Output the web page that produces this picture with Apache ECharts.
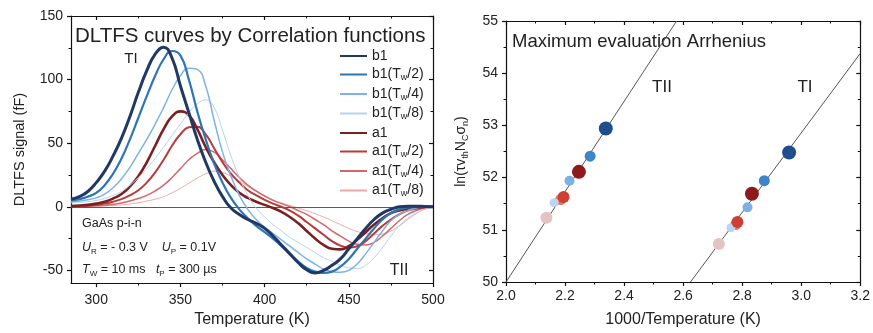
<!DOCTYPE html>
<html><head><meta charset="utf-8">
<script src="https://cdn.jsdelivr.net/npm/echarts@6/dist/echarts.min.js"></script>
<style>html,body{margin:0;padding:0;background:#fff}#c{width:873px;height:333px}</style>
</head><body><div id="c"></div>
<script>
// ---------- Left panel: DLTFS curves ----------
const temps = [285,290,295,300,305,310,315,320,325,330,335,340,345,350,355,360,365,370,375,380,385,390,395,400,405,410,415,420,425,430,435,440,445,450,455,460,465,470,475,480,485,490,495,500];
const b1   = [6,8,12,19,28,40,54,71,90,107,120,125.5,117,95,74,53,35,20,8,-1,-6,-10,-13,-17,-23,-30,-37,-44,-49.5,-52,-50,-46,-41,-33,-25,-17,-10,-5,-2,0,0.5,0.5,0.3,0];
const b1_2 = [5,6,8,11,17,26,38,53,70,87,103,116,122.5,119,100,75,53,34,19,7,-2,-9,-15,-20,-25,-31,-37,-43,-48,-51,-52,-51,-47,-41,-33,-25,-17,-10,-5,-2,-0.5,0,0,0];
const b1_4 = [4,4.5,5.5,7,10,15,22,31,42,53,65,78,92,103,109,108,95,68,43,24,9,-2,-10,-16,-21,-26,-31,-36,-41,-45,-49,-51,-51.5,-50,-45,-37,-28,-19,-11,-6,-3,-1,0,0];
const b1_8 = [3,3.5,4,5,6.5,9,12,17,23,30,38,47,56,65,74,81,84,78,60,40,23,9,-1,-8,-14,-19,-24,-28,-32,-36,-40,-43,-46,-48,-48.5,-46,-40,-32,-23,-15,-9,-5,-2,0];
const a1   = [0.5,1,1.5,2.5,4,6.5,10,16,24,35,48,61,71,75,72,61,47,35,25,17,11,7,4,1.5,-1,-4,-8,-13,-19,-25,-30,-33,-33.5,-31,-26,-20,-14,-9,-5,-3,-1.5,-0.5,0,0];
const a1_2 = [0.3,0.5,1,1.5,2.5,4,6,9,13,19,27,37,48,57,62.5,63,57,46,35,26,19,13,9,5.5,2.5,0,-3,-7,-12,-17,-22,-27,-30.5,-32,-31,-27,-21,-15,-10,-6,-3,-1.5,-0.5,0];
const a1_4 = [0.2,0.3,0.5,0.8,1.2,2,3,4.5,6.5,9,12.5,17,23,30,37,42,45,43,37,30,23,17,12.5,8.5,5,2.5,0,-3,-6,-10,-14,-19,-23,-27,-29.5,-30,-28,-23,-17,-11,-6,-3,-1,0];
const a1_8 = [0.1,0.2,0.3,0.5,0.7,1,1.5,2.2,3.2,4.5,6,8,11,14.5,18.5,22.5,26,28,27,24,20,16,12,8.5,5.5,3,1,-1,-3,-5.5,-8,-11,-14,-17,-19.5,-21,-22,-21.5,-19,-15,-10,-5.5,-2,0];
const seriesNames = ['b1','b1(Tw/2)','b1(Tw/4)','b1(Tw/8)','a1','a1(Tw/2)','a1(Tw/4)','a1(Tw/8)'];
const curves = [b1,b1_2,b1_4,b1_8,a1,a1_2,a1_4,a1_8];
const xTicksL = [300,350,400,450,500];
const xMinorL = [325,375,425,475];
const yTicksL = [-50,0,50,100,150];
const yMinorL = [-25,25,75,125];

// ---------- Right panel: Arrhenius ----------
const invT_TII = [2.338,2.285,2.215,2.163,2.247,2.195,2.185,2.137];
const lnY_TII  = [52.94,52.41,51.94,51.52,52.11,51.63,51.58,51.23];
const invT_TI  = [2.959,2.875,2.818,2.762,2.833,2.784,2.778,2.721];
const lnY_TI   = [52.48,51.94,51.43,51.04,51.69,51.15,51.10,50.73];
const fitTII_x = [2.0,2.578], fitTII_y = [50,55];
const fitTI_x  = [2.625,3.2], fitTI_y  = [50,54.38];
const xTicksR = [2.0,2.2,2.4,2.6,2.8,3.0,3.2];
const xMinorR = [2.1,2.3,2.5,2.7,2.9,3.1];
const yTicksR = [50,51,52,53,54,55];
const yMinorR = [50.5,51.5,52.5,53.5,54.5];

const lineColors = ['#1f3864','#2e75b6','#7fb2e5','#b4d3f0','#7b2020','#b83b3b','#d06a6a','#eba9a9'];
const lineWidths = [3,2.2,1.5,1,2.6,2,1.5,1];
const dotColors  = ['#1f4e8c','#3d85c6','#7eb0e0','#b9d5f0','#8e1b1b','#cf4034','#e0736a','#e3c3c3'];
const dotSizes   = [14,11,10,9,14,12,11,12];
const dotOrder   = [6,7,3,5,2,4,1,0];

const FONT = '"Liberation Sans", Arial, sans-serif';
const TXT = '#222';

function axPair(grid, min, max, pos, majors, minors, labelOpts, extra) {
  const inside = (pos === 'top' || pos === 'right');
  const base = {type:'value', gridIndex:grid, min:min, max:max, position:pos, splitLine:{show:false}};
  const main = Object.assign({}, base, {
    axisLine:{show:true, onZero:false, lineStyle:{color:'#111', width:1.2}},
    axisTick:{show:true, inside:inside, length:4, customValues:majors, lineStyle:{color:'#111', width:1.2}},
    axisLabel: labelOpts ? Object.assign({show:true, customValues:majors, fontSize:14, color:TXT, fontFamily:FONT}, labelOpts) : {show:false}
  }, extra || {});
  const minor = Object.assign({}, base, {
    axisLine:{show:false, onZero:false},
    axisTick:{show:true, inside:inside, length:2.5, customValues:minors, lineStyle:{color:'#111', width:1}},
    axisLabel:{show:false}
  });
  return [main, minor];
}

const xAxes = [].concat(
  axPair(0, 285, 500, 'bottom', xTicksL, xMinorL, {margin:10},
    {name:'Temperature (K)', nameLocation:'middle', nameGap:28, nameTextStyle:{fontSize:16, color:TXT, fontFamily:FONT}}),
  axPair(0, 285, 500, 'top', xTicksL, xMinorL, null),
  axPair(1, 2.0, 3.2, 'bottom', xTicksR, xMinorR, {margin:7, formatter:v => v.toFixed(1)},
    {name:'1000/Temperature (K)', nameLocation:'middle', nameGap:30, nameTextStyle:{fontSize:16, color:TXT, fontFamily:FONT}}),
  axPair(1, 2.0, 3.2, 'top', xTicksR, xMinorR, null)
);
const yAxes = [].concat(
  axPair(0, -60, 150, 'left', yTicksL, yMinorL, {margin:8},
    {name:'DLTFS signal (fF)', nameLocation:'middle', nameGap:44, nameRotate:90, nameTextStyle:{fontSize:14.5, color:TXT, fontFamily:FONT}}),
  axPair(0, -60, 150, 'right', yTicksL, yMinorL, null),
  axPair(1, 50, 55, 'left', yTicksR, yMinorR, {margin:8},
    {name:'{a|ln(τv}{s|th}{a|N}{s|C}{a|σ}{s|n}{a|)}', nameLocation:'middle', nameGap:36, nameRotate:90,
     nameTextStyle:{color:TXT, fontFamily:FONT, rich:{
       a:{fontSize:14, fontFamily:FONT, color:TXT, lineHeight:18},
       s:{fontSize:9, fontFamily:FONT, color:TXT, lineHeight:10, verticalAlign:'bottom'}}}}),
  axPair(1, 50, 55, 'right', yTicksR, yMinorR, null)
);

const series = [];
curves.forEach((arr, i) => {
  const s = {
    name: seriesNames[i], type:'line', xAxisIndex:0, yAxisIndex:0, smooth:true, symbol:'none',
    data: temps.map((t, k) => [t, arr[k]]),
    lineStyle:{color:lineColors[i], width:lineWidths[i]}, itemStyle:{color:lineColors[i]},
    z: 10 - i
  };
  if (i === 0) {
    s.markLine = {silent:true, symbol:'none', label:{show:false}, data:[{yAxis:0}],
      lineStyle:{color:'#5a5a5a', width:1, type:'solid'}};
  }
  series.push(s);
});
series.push({name:'fitTII', type:'line', xAxisIndex:4, yAxisIndex:4, symbol:'none', silent:true,
  data: fitTII_x.map((x,k)=>[x, fitTII_y[k]]), lineStyle:{color:'#555', width:1}, z:1});
series.push({name:'fitTI', type:'line', xAxisIndex:4, yAxisIndex:4, symbol:'none', silent:true,
  data: fitTI_x.map((x,k)=>[x, fitTI_y[k]]), lineStyle:{color:'#555', width:1}, z:1});
dotOrder.forEach((i, n) => {
  series.push({name:'pt ' + seriesNames[i], type:'scatter', xAxisIndex:4, yAxisIndex:4,
    symbolSize:dotSizes[i], itemStyle:{color:dotColors[i], opacity:1},
    data:[[invT_TII[i], lnY_TII[i]], [invT_TI[i], lnY_TI[i]]], z:5 + n});
});

const subRich = {
  n:{fontSize:14, fontFamily:FONT, color:TXT, lineHeight:16},
  s:{fontSize:9, fontFamily:FONT, color:TXT, lineHeight:9, verticalAlign:'bottom'}
};
const annRich = {
  i:{fontSize:12.5, fontStyle:'italic', fontFamily:FONT, fill:TXT, lineHeight:16},
  n:{fontSize:12.5, fontFamily:FONT, fill:TXT, lineHeight:16},
  s:{fontSize:8, fontFamily:FONT, fill:TXT, lineHeight:8, verticalAlign:'bottom'}
};

function txt(text, x, y, size, align) {
  return {type:'text', x:x, y:y, silent:true,
    style:{text:text, fontSize:size, fontFamily:FONT, fill:TXT, align:align||'left', verticalAlign:'middle'}};
}
function rtxt(text, x, y) {
  return {type:'text', x:x, y:y, silent:true,
    style:{text:text, rich:annRich, fontSize:12.5, fontFamily:FONT, fill:TXT, align:'left', verticalAlign:'middle'}};
}

const option = {
  animation:false,
  backgroundColor:'#fff',
  textStyle:{fontFamily:FONT},
  grid:[
    {left:71, top:16, width:362, height:271},
    {left:506, top:21, width:357, height:266}
  ],
  xAxis:xAxes,
  yAxis:yAxes,
  legend:{
    orient:'vertical', left:334, top:44, itemWidth:27, itemHeight:12, itemGap:4.5,
    itemStyle:{opacity:0},
    data:seriesNames,
    formatter: name => {
      const m = name.match(/^(\w+)\(Tw\/(\d)\)$/);
      if (!m) return '{n|' + name + '}';
      return '{n|' + m[1] + '(T}{s|w}{n|/' + m[2] + ')}';
    },
    textStyle:{fontSize:14, color:TXT, fontFamily:FONT, rich:subRich}
  },
  graphic:[
    txt('DLTFS curves by Correlation functions', 75, 36, 20.5),
    txt('TI', 131, 59, 15, 'center'),
    txt('TII', 399, 271, 16, 'center'),
    txt('GaAs p-i-n', 82, 224, 12.5),
    rtxt('{i|U}{s|R}{n| = - 0.3 V    }{i|U}{s|P}{n| = 0.1V}', 82, 248),
    rtxt('{i|T}{s|W}{n| = 10 ms   }{i|t}{s|P}{n| = 300 µs}', 82, 270),
    txt('Maximum evaluation Arrhenius', 512, 42, 18.5),
    txt('TII', 662, 87, 17, 'center'),
    txt('TI', 805, 87, 17, 'center')
  ],
  series:series
};
const chart = echarts.init(document.getElementById('c'), null, {renderer:'canvas'});
chart.setOption(option);
</script>
</body></html>
